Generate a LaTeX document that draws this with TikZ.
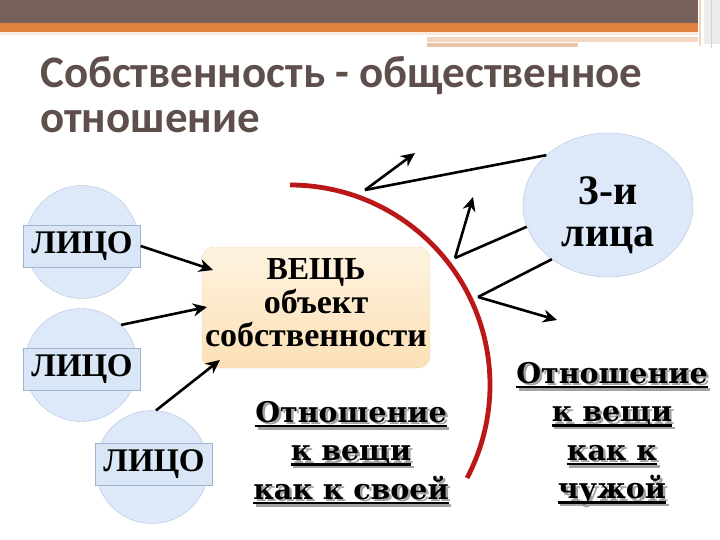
\documentclass[tikz,border=0pt]{standalone}
\usepackage{fontspec}
\setmainfont{Liberation Serif}
\newfontfamily\titlefont{Carlito}
\newfontfamily\heavyfont{DejaVu Serif}
\usetikzlibrary{arrows.meta}
\usetikzlibrary{shapes.geometric}
\definecolor{headbrown}{HTML}{76625A}
\definecolor{headorange}{HTML}{E0823F}
\definecolor{peachA}{HTML}{F3D6C2}
\definecolor{peachB}{HTML}{EAC4A6}
\definecolor{titlegray}{HTML}{5E4F4C}
\definecolor{circlefill}{HTML}{DDE9F8}
\definecolor{circleline}{HTML}{AFC3DC}
\definecolor{tagfill}{HTML}{D9E6F6}
\definecolor{tagline}{HTML}{9FB4CF}
\definecolor{boxtop}{HTML}{FEF3E0}
\definecolor{boxbottom}{HTML}{FBE0B6}
\definecolor{boxline}{HTML}{EFD6AF}
\definecolor{arcred}{HTML}{BA1818}
\definecolor{shadowgray}{HTML}{A3A3A3}
% underlined text with a grey drop shadow
\newcommand{\shadowul}[1]{%
  \setbox0\hbox{#1}%
  \rlap{\hspace{2.5pt}\raisebox{-2.5pt}{\color{shadowgray}\rlap{\rule[-5pt]{\wd0}{2.4pt}}\copy0}}%
  \rlap{\rule[-5pt]{\wd0}{2.4pt}}\box0}

\begin{document}
\begin{tikzpicture}[x=1pt,y=-1pt,
  person/.style={circle,draw=circleline,fill=circlefill,minimum size=113pt,inner sep=0pt},
  tag/.style={rectangle,draw=tagline,fill=tagfill,minimum width=117pt,minimum height=42pt,inner sep=0pt,
    font=\fontsize{33}{33}\selectfont\bfseries},
  thing/.style={rectangle,rounded corners=12pt,draw=boxline,top color=boxtop,bottom color=boxbottom,
    minimum width=228pt,minimum height=121pt},
  link/.style={line width=2.6pt,-{Stealth[length=14pt,width=13pt]}},
  bounce/.style={line width=2.6pt},
  relation/.style={align=center,inner sep=0pt,font=\heavyfont\bfseries\fontsize{28.5}{38.5}\selectfont}
]
\useasboundingbox (0,0) rectangle (720,540);

% header bars
\fill[headbrown] (0,0) rectangle (698,23);
\fill[headorange] (0,23) rectangle (698,32);
\fill[peachA!50] (0,32) rectangle (698,35);
\fill[peachA] (427,37) rectangle (698,42);
\fill[peachB] (427,43) rectangle (578,47);
\fill[gray!15] (704,0) rectangle (720,44);
\draw[peachA,line width=1.5pt] (700,0) -- (700,46);
\draw[gray!35,line width=1pt] (711,0) -- (711,48);

% title
\node[anchor=base west,inner sep=0pt,text=titlegray,font=\titlefont\bfseries\fontsize{45}{46}\selectfont]
  (title1) at (40,88) {Собственность - общественное};
\node[anchor=base west,inner sep=0pt,text=titlegray,font=\titlefont\bfseries\fontsize{45}{46}\selectfont]
  (title2) at (40,133) {отношение};

% persons
\node[person] (lico1) at (82,242) {};
\node[person] (lico2) at (81,365) {};
\node[person] (lico3) at (152,467) {};
\node[tag] (lbl1) at (82,246) {ЛИЦО};
\node[tag] (lbl2) at (82,369) {ЛИЦО};
\node[tag] (lbl3) at (154,464) {ЛИЦО};

% the thing
\node[thing] (vesh) at (316,307.5) {};
\node[anchor=base,inner sep=0pt,font=\fontsize{32}{32}\selectfont\bfseries] (veshtxt) at (316,279) {ВЕЩЬ};
\node[anchor=base,inner sep=0pt,font=\fontsize{34}{34}\selectfont\bfseries] (obj) at (316,313) {объект};
\node[anchor=base,inner sep=0pt,font=\fontsize{34}{34}\selectfont\bfseries] (sobst) at (316,346) {собственности};

% third persons
\node[ellipse,draw=circleline,fill=circlefill,minimum width=170pt,minimum height=144pt] (tret) at (608,205) {};
\node[anchor=base,inner sep=0pt,font=\fontsize{42}{42}\selectfont\bfseries] (tret1) at (608,205) {3-и};
\node[anchor=base,inner sep=0pt,font=\fontsize{42}{42}\selectfont\bfseries] (tret2) at (608,246) {лица};

% red border
\draw[arcred,line width=4.8pt] (290,185) arc[start angle=-90,end angle=27.7,radius=200];

% arrows into the thing
\coordinate (in1) at (213,270);
\coordinate (in2) at (207,307);
\coordinate (in3) at (220,360);
\draw[link] (lbl1.east) -- (in1);
\draw[link] (lico2.45) -- (in2);
\draw[link] (lico3.86) -- (in3);

% third persons bounce off the border
\coordinate (v1) at (365,190);
\coordinate (v2) at (455,258);
\coordinate (v3) at (478,297);
\coordinate (o1) at (415,153);
\coordinate (o2) at (473,197);
\coordinate (o3) at (557,320);
\draw[bounce] (tret.141) -- (v1);
\draw[link] (v1) -- (o1);
\draw[bounce] (tret.195) -- (v2);
\draw[link] (v2) -- (o2);
\draw[bounce] (tret.224) -- (v3);
\draw[link] (v3) -- (o3);

% relations
\node[relation,anchor=north] (own) at (351,401)
  {\shadowul{Отношение}\\\shadowul{к вещи}\\\shadowul{как к своей}};
\node[relation,anchor=north] (alien) at (612,362)
  {\shadowul{Отношение}\\\shadowul{к вещи}\\\shadowul{как к}\\\shadowul{чужой}};
\end{tikzpicture}
\end{document}
